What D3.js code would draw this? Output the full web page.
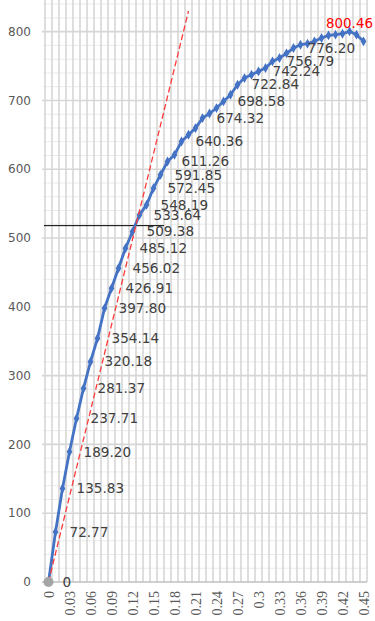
<!DOCTYPE html>
<html>
<head>
<meta charset="utf-8">
<script src="https://cdnjs.cloudflare.com/ajax/libs/d3/7.8.5/d3.min.js"></script>
<style>
  body { margin: 0; background: #fff; }
  svg { display: block; }
</style>
</head>
<body>
<svg width="375" height="621"></svg>
<script>
// strain categories (x axis)
var strain = ["0","0.01","0.02","0.03","0.04","0.05","0.06","0.07","0.08","0.09",
  "0.1","0.11","0.12","0.13","0.14","0.15","0.16","0.17","0.18","0.19",
  "0.2","0.21","0.22","0.23","0.24","0.25","0.26","0.27","0.28","0.29",
  "0.3","0.31","0.32","0.33","0.34","0.35","0.36","0.37","0.38","0.39",
  "0.4","0.41","0.42","0.43","0.44","0.45"];
// stress values
var stress = [0, 72.77, 135.83, 189.20, 237.71, 281.37, 320.18, 354.14, 397.80, 426.91,
  456.02, 485.12, 509.38, 533.64, 548.19, 572.45, 591.85, 611.26, 620.96, 640.36,
  650.07, 659.77, 674.32, 681.0, 688.9, 698.58, 708.3, 722.84, 732.5, 737.4,
  742.24, 747.1, 756.79, 761.7, 768.5, 776.20, 781.0, 782.5, 785.9, 790.8,
  794.5, 795.6, 797.0, 800.46, 795.6, 785.9];
// which points carry a data label
var labelled = ["0","0.01","0.02","0.03","0.04","0.05","0.06","0.07","0.08","0.09",
  "0.1","0.11","0.12","0.13","0.14","0.15","0.16","0.17","0.19","0.22",
  "0.25","0.27","0.3","0.32","0.35"];
var peakCat = "0.43";
var xTicks = ["0","0.03","0.06","0.09","0.12","0.15","0.18","0.21","0.24","0.27",
  "0.3","0.33","0.36","0.39","0.42","0.45"];
var yTicks = [0, 100, 200, 300, 400, 500, 600, 700, 800];
// elastic slope (red dashed) and yield level (black line)
var elasticX = [0, 0.2];
var elasticY = [0, 830];
var yieldStress = 518;

var data = strain.map(function(s, i) { return {s: s, v: stress[i]}; });

var svg = d3.select("svg");
var left = 45, right = 367, bottom = 582, plotTop = 0;

var x = d3.scaleBand().domain(strain).range([left, right]);
var bw = x.bandwidth();
function cx(s) { return x(s) + bw / 2; }
var xl = d3.scaleLinear().domain([0, 0.45]).range([cx("0"), cx("0.45")]);
var y = d3.scaleLinear().domain([0, 846]).range([bottom, plotTop]);

// minor horizontal grid
var g = svg.append("g");
g.selectAll(".minor").data(d3.range(0, 846, 20).filter(function(v) { return v % 100 !== 0; }))
  .enter().append("line")
  .attr("x1", left - 2).attr("x2", right)
  .attr("y1", function(d) { return y(d); }).attr("y2", function(d) { return y(d); })
  .attr("stroke", "#eaeaea").attr("stroke-width", 1);

// vertical grid at category boundaries
g.selectAll(".vg").data(strain.concat(["end"]))
  .enter().append("line")
  .attr("x1", function(d, i) { return left + i * bw; })
  .attr("x2", function(d, i) { return left + i * bw; })
  .attr("y1", bottom).attr("y2", plotTop)
  .attr("stroke", "#d6d6d6").attr("stroke-width", 1.6);

// major horizontal grid
g.selectAll(".major").data(yTicks.slice(1))
  .enter().append("line")
  .attr("x1", left - 3).attr("x2", right)
  .attr("y1", function(d) { return y(d); }).attr("y2", function(d) { return y(d); })
  .attr("stroke", "#d6d6d6").attr("stroke-width", 1.6);

// x axis line
svg.append("line")
  .attr("x1", left - 3).attr("x2", right)
  .attr("y1", bottom).attr("y2", bottom)
  .attr("stroke", "#bfbfbf").attr("stroke-width", 1.6);

// y tick labels
svg.selectAll(".ylab").data(yTicks).enter().append("text")
  .attr("x", 31).attr("y", function(d) { return y(d); })
  .attr("dy", "0.35em")
  .attr("text-anchor", "end")
  .attr("font-family", "DejaVu Sans")
  .attr("font-size", "12px")
  .attr("fill", "#595959")
  .text(function(d) { return d; });

// x tick labels (rotated)
svg.selectAll(".xlab").data(xTicks).enter().append("text")
  .attr("transform", function(d) { return "translate(" + (cx(d) + 5) + "," + (bottom + 9) + ") rotate(-90)"; })
  .attr("text-anchor", "end")
  .attr("font-family", "Liberation Serif")
  .attr("font-size", "14px")
  .attr("fill", "#595959")
  .text(function(d) { return d; });

// yield line
svg.append("line")
  .attr("x1", left - 1).attr("x2", x("0.17"))
  .attr("y1", y(yieldStress)).attr("y2", y(yieldStress))
  .attr("stroke", "#000").attr("stroke-width", 1);

// stress-strain curve
var line = d3.line()
  .x(function(d) { return cx(d.s); })
  .y(function(d) { return y(d.v); });

svg.append("path")
  .datum(data)
  .attr("d", line)
  .attr("fill", "none")
  .attr("stroke", "#4472C4")
  .attr("stroke-width", 2.8)
  .attr("stroke-linejoin", "round");

svg.selectAll(".pt").data(data).enter().append("path")
  .attr("d", d3.symbol().type(d3.symbolDiamond).size(28))
  .attr("transform", function(d) { return "translate(" + cx(d.s) + "," + y(d.v) + ")"; })
  .attr("fill", "#4472C4");

// elastic line
svg.append("line")
  .attr("x1", xl(elasticX[0])).attr("y1", y(elasticY[0]))
  .attr("x2", xl(elasticX[1])).attr("y2", y(elasticY[1]))
  .attr("stroke", "#ff3b3b").attr("stroke-width", 1.3)
  .attr("stroke-dasharray", "6,3");

// origin marker
svg.append("circle")
  .attr("cx", cx("0")).attr("cy", y(0)).attr("r", 5)
  .attr("fill", "#a5a5a5");

// data labels
svg.selectAll(".lab").data(data.filter(function(d) { return labelled.indexOf(d.s) >= 0; }))
  .enter().append("text")
  .attr("x", function(d) { return cx(d.s) + 14; })
  .attr("y", function(d) { return y(d.v); })
  .attr("dy", "0.35em")
  .attr("font-family", "DejaVu Sans")
  .attr("font-size", "13.6px")
  .attr("fill", "#404040")
  .text(function(d) { return d.v === 0 ? "0" : d.v.toFixed(2); });

var peak = data.filter(function(d) { return d.s === peakCat; })[0];
svg.append("text")
  .attr("x", cx(peak.s))
  .attr("y", y(peak.v) - 3)
  .attr("text-anchor", "middle")
  .attr("font-family", "DejaVu Sans")
  .attr("font-size", "13.4px")
  .attr("fill", "#ff0000")
  .text(peak.v.toFixed(2));
</script>
</body>
</html>
